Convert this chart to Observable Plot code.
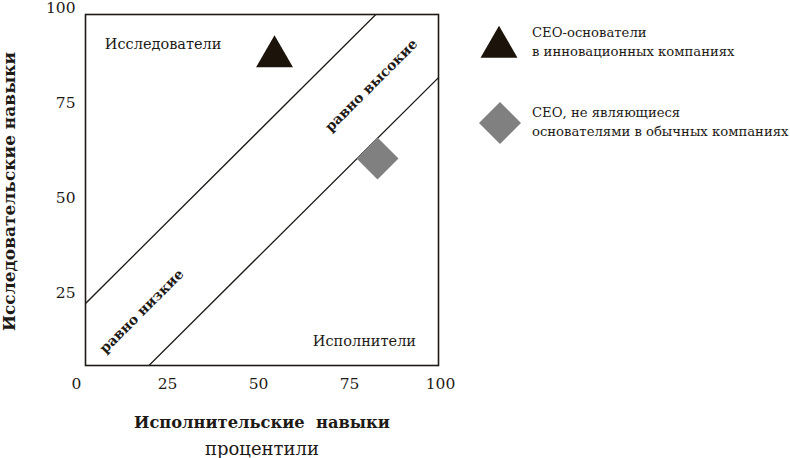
<!DOCTYPE html>
<html>
<head>
<meta charset="utf-8">
<script src="https://cdn.jsdelivr.net/npm/d3@7"></script>
<script src="https://cdn.jsdelivr.net/npm/@observablehq/plot@0.6"></script>
<style>
  html, body { margin: 0; padding: 0; background: #fff; }
  #wrap { position: relative; width: 790px; height: 458px; font-family: "DejaVu Serif", serif; color: #1e1a16; overflow: hidden; }
  #chart { position: absolute; left: 0; top: 0; }
  .leg { position: absolute; }
  .legtext { position: absolute; left: 532px; font-size: 13.2px; line-height: 18.5px; white-space: nowrap; }
</style>
</head>
<body>
<div id="wrap">
  <div id="chart"></div>
</div>
<script>
// ---- data (percentiles) ----
const xTicks = [0, 25, 50, 75, 100];
const yTicks = [25, 50, 75, 100];

// diagonal boundary lines (endpoints)
const diagX = [0, 100];
const upperDiagY = [19.8, 115.4];
const lowerDiagY = [-13.2, 82.3];

// CEO groups
const groupNames = ["СЕО-основатели в инновационных компаниях", "СЕО, не являющиеся основателями в обычных компаниях"];
const groupX = [54.4, 82.7];
const groupY = [87.3, 60.4];
const groupSymbols = ["triangle", "diamond2"];
const groupColors = ["#1c140a", "#808080"];
const groupR = [13.7, 18.9];
const legendLines = [["СЕО-основатели", "в инновационных компаниях"], ["СЕО, не являющиеся", "основателями в обычных компаниях"]];

// region annotations
const noteText = ["Исследователи", "Исполнители", "равно высокие", "равно низкие"];
const noteX = [23.8, 79.1, 81.0, 17.9];
const noteY = [90.5, 12.1, 79.7, 20.1];
const noteBold = [false, false, true, true];
const noteRotate = [0, 0, -45, -45];

const yTitle = "Исследовательские навыки";
const xTitle = "Исполнительские\u00a0 навыки";
const xSubtitle = "процентили";

// ---- build tables ----
const upperLine = diagX.map((x, i) => ({x, y: upperDiagY[i]}));
const lowerLine = diagX.map((x, i) => ({x, y: lowerDiagY[i]}));
const groups = groupNames.map((name, i) => ({name, x: groupX[i], y: groupY[i], symbol: groupSymbols[i], color: groupColors[i], r: groupR[i]}));
const notes = noteText.map((t, i) => ({t, x: noteX[i], y: noteY[i], bold: noteBold[i], rot: noteRotate[i]}));

const W = 460, H = 458;
const ink = "#1e1a16";
const font = "DejaVu Serif";

const chart = Plot.plot({
  width: W,
  height: H,
  marginLeft: 85,
  marginTop: 14,
  marginRight: W - 438,
  marginBottom: H - 365,
  style: {fontFamily: font, color: ink, background: "transparent", overflow: "visible"},
  x: {domain: [0, 100], range: [76, 440], axis: null},
  y: {domain: [0, 100], range: [387, 8], axis: null},
  r: {type: "identity"},
  symbol: {type: "identity"},
  marks: [
    Plot.line(upperLine, {x: "x", y: "y", stroke: ink, strokeWidth: 1.3, clip: true}),
    Plot.line(lowerLine, {x: "x", y: "y", stroke: ink, strokeWidth: 1.3, clip: true}),
    Plot.frame({stroke: ink, strokeWidth: 1.6}),
    Plot.axisX({ticks: xTicks, tickSize: 0, tickPadding: 12, fontSize: 15.5, label: null, anchor: "bottom"}),
    Plot.axisY({ticks: yTicks, tickSize: 0, tickPadding: 10, fontSize: 15.5, label: null, anchor: "left"}),
    Plot.text(notes.filter(d => !d.bold), {x: "x", y: "y", text: "t", fontSize: 14.5, fill: ink}),
    Plot.text(notes.filter(d => d.bold), {x: "x", y: "y", text: "t", rotate: "rot", fontSize: 14, fontWeight: "bold", fill: ink}),
    Plot.dot(groups, {x: "x", y: "y", symbol: "symbol", r: "r", fill: "color", stroke: "none"}),
    Plot.text([yTitle], {frameAnchor: "left", textAnchor: "middle", lineAnchor: "middle", dx: -76, dy: 1.5, rotate: -90, fontSize: 17, fontWeight: "bold", fill: ink}),
    Plot.text([xTitle], {frameAnchor: "bottom", dy: 62, fontSize: 16.3, fontWeight: "bold", fill: ink}),
    Plot.text([xSubtitle], {frameAnchor: "bottom", dy: 89, fontSize: 18, fill: ink})
  ]
});
document.getElementById("chart").appendChild(chart);

// ---- legend (HTML, right side) ----
const wrap = document.getElementById("wrap");
const legPos = [
  {sx: 498.5, sy: 46.5, textTop: 24},
  {sx: 499.5, sy: 123, textTop: 104}
];
groups.forEach((g, i) => {
  const size = g.r * g.r * Math.PI;
  const p = d3.symbol(g.symbol === "triangle" ? d3.symbolTriangle : d3.symbolDiamond2, size)();
  const box = 50;
  const svg = d3.create("svg").attr("width", box).attr("height", box)
    .attr("class", "leg")
    .style("left", (legPos[i].sx - box / 2) + "px")
    .style("top", (legPos[i].sy - box / 2) + "px");
  svg.append("path").attr("d", p).attr("transform", `translate(${box / 2},${box / 2})`).attr("fill", g.color);
  wrap.appendChild(svg.node());
  const t = document.createElement("div");
  t.className = "legtext";
  t.style.top = legPos[i].textTop + "px";
  t.innerHTML = legendLines[i].join("<br>");
  wrap.appendChild(t);
});
</script>
</body>
</html>
